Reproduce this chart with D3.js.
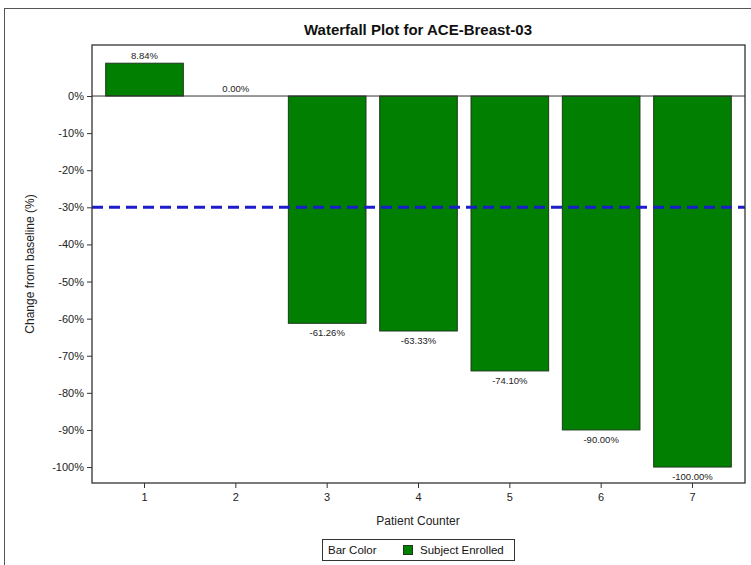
<!DOCTYPE html>
<html><head><meta charset="utf-8">
<script src="https://cdn.jsdelivr.net/npm/d3@7"></script>
<style>body{margin:0;background:#fff;}svg text{font-family:"Liberation Sans",Arial,sans-serif;}</style>
</head><body>
<svg id="c" width="751" height="565"></svg>
<script>
const patients = [1,2,3,4,5,6,7];
const changes = [8.84, 0.00, -61.26, -63.33, -74.10, -90.00, -100.00];
const yTicks = [0,-10,-20,-30,-40,-50,-60,-70,-80,-90,-100];
const threshold = -30;
const title = "Waterfall Plot for ACE-Breast-03";
const xLabel = "Patient Counter";
const yLabel = "Change from baseline (%)";
const legendTitle = "Bar Color";
const legendItem = "Subject Enrolled";

const svg = d3.select("#c");
const L=92, R=745, T=45, B=483;
const x = d3.scaleBand().domain(patients).range([L,R]).paddingInner(0.15).paddingOuter(0.15);
const y = d3.scaleLinear().domain([-104.3,13.75]).range([B,T]);

// outer frame
svg.append("rect").attr("x",4.5).attr("y",8.5).attr("width",800).attr("height",600)
  .attr("fill","none").attr("stroke","#555").attr("stroke-width",1);

svg.append("text").attr("x",418).attr("y",35).attr("text-anchor","middle")
  .attr("font-size",15).attr("font-weight","bold").attr("fill","#111").text(title);

// bars
svg.selectAll("rect.bar").data(patients).join("rect").attr("class","bar")
  .attr("x",d=>x(d)).attr("width",x.bandwidth())
  .attr("y",(d,i)=>y(Math.max(0,changes[i])))
  .attr("height",(d,i)=>Math.abs(y(changes[i])-y(0)))
  .attr("fill","#007f00").attr("stroke","#1e3a1e").attr("stroke-width",1);

// zero line
svg.append("line").attr("x1",L).attr("x2",R).attr("y1",y(0)).attr("y2",y(0))
  .attr("stroke","#333").attr("stroke-width",1);

// bar labels
svg.selectAll("text.bl").data(patients).join("text").attr("class","bl")
  .attr("x",d=>x(d)+x.bandwidth()/2)
  .attr("y",(d,i)=>changes[i]>=0 ? y(changes[i])-4 : y(changes[i])+13)
  .attr("text-anchor","middle").attr("font-size",9.5).attr("fill","#222")
  .text((d,i)=>changes[i].toFixed(2)+"%");

// threshold
svg.append("line").attr("x1",L).attr("x2",R).attr("y1",y(threshold)).attr("y2",y(threshold))
  .attr("stroke","#1c1cc8").attr("stroke-width",3).attr("stroke-dasharray","11,6");

// axes
const yAxis = d3.axisLeft(y).tickValues(yTicks).tickSize(5).tickFormat(d=>d+"%");
const ga = svg.append("g").attr("transform",`translate(${L},0)`).call(yAxis);
ga.select(".domain").remove();
ga.selectAll("text").attr("font-size",11).attr("fill","#222").attr("font-family","Liberation Sans, Arial, sans-serif");
ga.selectAll("line").attr("stroke","#333");

const xAxis = d3.axisBottom(x).tickSize(5);
const gx = svg.append("g").attr("transform",`translate(0,${B})`).call(xAxis);
gx.select(".domain").remove();
gx.selectAll("text").attr("font-size",11).attr("fill","#222").attr("dy","0.9em").attr("font-family","Liberation Sans, Arial, sans-serif");
gx.selectAll("line").attr("stroke","#333");

// plot border
svg.append("rect").attr("x",L).attr("y",T).attr("width",R-L).attr("height",B-T)
  .attr("fill","none").attr("stroke","#333").attr("stroke-width",1.3);

svg.append("text").attr("x",418).attr("y",525).attr("text-anchor","middle")
  .attr("font-size",12).attr("fill","#222").text(xLabel);
svg.append("text").attr("transform","translate(34,264) rotate(-90)").attr("text-anchor","middle")
  .attr("font-size",12).attr("fill","#222").text(yLabel);

// legend
const lg = svg.append("g");
lg.append("rect").attr("x",322.5).attr("y",539.5).attr("width",192).attr("height",21)
  .attr("fill","#fff").attr("stroke","#333").attr("stroke-width",1);
lg.append("text").attr("x",328).attr("y",554).attr("font-size",11.5).attr("fill","#111").text(legendTitle);
lg.append("rect").attr("x",403.5).attr("y",545.5).attr("width",9).attr("height",9)
  .attr("fill","#007f00").attr("stroke","#1e3a1e");
lg.append("text").attr("x",420).attr("y",554).attr("font-size",11.5).attr("fill","#111").text(legendItem);
</script>
</body></html>
